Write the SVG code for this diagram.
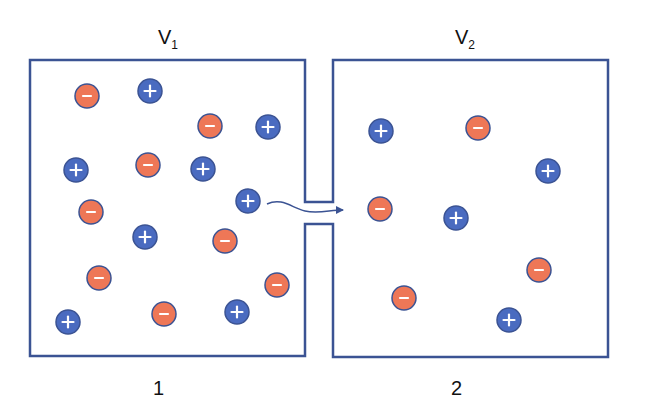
<svg xmlns="http://www.w3.org/2000/svg" width="646" height="418" viewBox="0 0 646 418">
<style>
.wall{fill:none;stroke:#3B5393;stroke-width:2.5}
.mc{fill:#EE7757;stroke:#3B5393;stroke-width:1.5}
.pc{fill:#4A6BC0;stroke:#3B5393;stroke-width:1.5}
.s{stroke:#fff;stroke-width:2.2;stroke-linecap:round}
text{font-family:"Liberation Sans",Arial,sans-serif;font-size:20px;fill:#111}
</style>
<defs>
<g id="minus"><circle class="mc" r="12"/><line class="s" x1="-4" y1="0" x2="4" y2="0"/></g>
<g id="plus"><circle class="pc" r="12"/><line class="s" x1="-5.5" y1="0" x2="5.5" y2="0"/><line class="s" x1="0" y1="-5.5" x2="0" y2="5.5"/></g>
<marker id="ah" markerWidth="8" markerHeight="8" refX="7" refY="4" orient="auto" markerUnits="userSpaceOnUse"><path d="M0,0 L8,4 L0,8 Z" fill="#3B5393"/></marker>
</defs>
<g id="containers"><path class="wall" d="M30,60 H305 V202 H333 V60 H608 V357 H333 V224 H305 V356 H30 Z"/></g>
<g id="labels">
<text x="158" y="44">V<tspan font-size="12" dy="5">1</tspan></text>
<text x="455" y="44">V<tspan font-size="12" dy="5">2</tspan></text>
<text x="153" y="395">1</text>
<text x="451" y="395">2</text>
</g>
<g id="connectors"><path d="M267,204 C282,197 292,208 305,211 C318,214 330,210 343,210" fill="none" stroke="#3B5393" stroke-width="1.5" marker-end="url(#ah)"/></g>
<g id="negatives">
<use href="#minus" x="87" y="96"/><use href="#minus" x="210" y="126"/><use href="#minus" x="148" y="165"/><use href="#minus" x="91" y="212"/><use href="#minus" x="225" y="241"/><use href="#minus" x="99" y="278"/><use href="#minus" x="277" y="285"/><use href="#minus" x="164" y="314"/><use href="#minus" x="478" y="128"/><use href="#minus" x="380" y="209"/><use href="#minus" x="539" y="270"/><use href="#minus" x="404" y="298"/>
</g>
<g id="positives">
<use href="#plus" x="150" y="91"/><use href="#plus" x="268" y="127"/><use href="#plus" x="76" y="170"/><use href="#plus" x="203" y="169"/><use href="#plus" x="248" y="201"/><use href="#plus" x="145" y="237"/><use href="#plus" x="68" y="322"/><use href="#plus" x="237" y="312"/><use href="#plus" x="381" y="131"/><use href="#plus" x="548" y="171"/><use href="#plus" x="456" y="218"/><use href="#plus" x="509" y="320"/>
</g>
</svg>
